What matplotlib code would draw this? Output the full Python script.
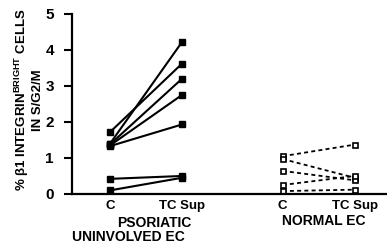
import numpy as np
import matplotlib
matplotlib.use('Agg')
import matplotlib.pyplot as plt

plt.rcParams['font.family'] = ['Liberation Sans', 'DejaVu Sans']
plt.rcParams['font.weight'] = 'bold'
plt.rcParams['mathtext.fontset'] = 'custom'
plt.rcParams['mathtext.bf'] = 'Liberation Sans:bold'
plt.rcParams['mathtext.rm'] = 'Liberation Sans:bold'

# psoriatic uninvolved EC, pairs C -> TC Sup
pso_c = [1.72, 1.40, 1.38, 1.35, 1.33, 0.42, 0.10]
pso_tc = [3.62, 4.22, 3.20, 2.75, 1.93, 0.50, 0.45]

# normal EC
norm_c = [1.05, 0.97, 0.64, 0.25, 0.08]
norm_tc = [1.37, 0.45, 0.38, 0.50, 0.12]

x_pso = [1.0, 2.0]
x_norm = [3.4, 4.4]
tick_pos = x_pso + x_norm
tick_labels = ['C', 'TC Sup', 'C', 'TC Sup']

fig = plt.figure(figsize=(3.87, 2.44), dpi=100)
ax = fig.add_axes([0.186, 0.205, 0.814, 0.738])

for a, b in zip(pso_c, pso_tc):
    ax.plot(x_pso, [a, b], color='black', lw=1.5, marker='s', ms=4.5,
            mfc='black', mec='black', clip_on=False)

for a, b in zip(norm_c, norm_tc):
    ax.plot(x_norm, [a, b], color='black', lw=1.3, ls=(0, (2.2, 1.8)),
            marker='s', ms=3.6, mfc='white', mec='black', mew=1.2, clip_on=False)

ax.set_xlim(0.47, 4.85)
ax.set_ylim(0, 5)
ax.set_yticks([0, 1, 2, 3, 4, 5])
ax.set_xticks(tick_pos)
ax.set_xticklabels(tick_labels, fontsize=9.5, fontweight='bold')
ax.tick_params(axis='x', length=0, pad=4)
ax.tick_params(axis='y', length=6, width=1.5, direction='out', labelsize=11, pad=7)
for t in ax.get_yticklabels():
    t.set_fontweight('bold')

ax.spines['top'].set_visible(False)
ax.spines['right'].set_visible(False)
ax.spines['left'].set_linewidth(1.6)
ax.spines['bottom'].set_linewidth(1.6)

ax.text(1.61, -0.8, 'PSORIATIC', ha='center', va='center', fontsize=10,
        fontweight='bold')
ax.text(1.25, -1.2, 'UNINVOLVED EC', ha='center', va='center', fontsize=10,
        fontweight='bold')
ax.text(3.97, -0.75, 'NORMAL EC', ha='center', va='center', fontsize=10,
        fontweight='bold')

fig.text(0.057, 0.59, r'% β1 INTEGRIN$^{\mathbf{BRIGHT}}$ CELLS', rotation=90,
         ha='center', va='center', fontsize=9.5, fontweight='bold')
fig.text(0.097, 0.59, 'IN S/G2/M', rotation=90,
         ha='center', va='center', fontsize=9.5, fontweight='bold')

fig.savefig('out.png', dpi=100)
